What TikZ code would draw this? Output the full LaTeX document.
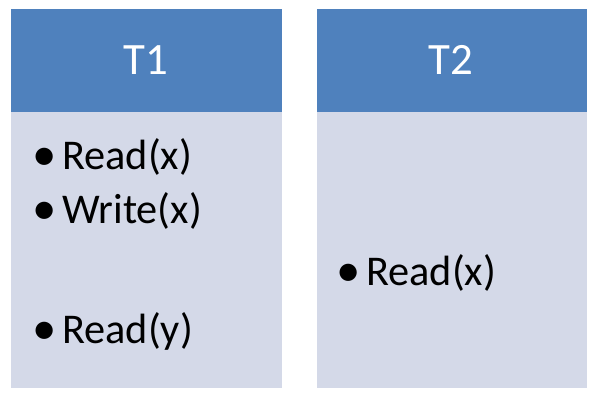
\documentclass[tikz,border=0pt]{standalone}
\usepackage{fontspec}
\setmainfont{Carlito}
\definecolor{headblue}{HTML}{4F81BD}
\definecolor{bodyblue}{HTML}{D4D9E8}
\newcommand{\bul}{\makebox[27bp][l]{\hspace{-2.5bp}\raisebox{-1.5bp}{\scalebox{1.15}{•}}}}
\begin{document}
\begin{tikzpicture}[x=1bp,y=-1bp,
  header/.style={fill=headblue, draw=none},
  panel/.style={fill=bodyblue, draw=none},
  title/.style={text=white, font=\fontsize{45}{50}\selectfont, inner sep=0pt},
  item/.style={anchor=base west, inner sep=0pt, font=\fontsize{42.5}{48}\selectfont}]
  \useasboundingbox (0,0) rectangle (602,405);
  % T1 column
  \path[panel]  (11,112) rectangle (282,388);
  \path[header] (11,9) rectangle (282,112);
  \node[title] (t1) at (145.5,60) {T1};
  \node[item] (r1) at (35,169) {\bul Read(x)};
  \node[item] (w1) at (35,223) {\bul Write(x)};
  \node[item] (y1) at (35,343) {\bul Read(y)};
  % T2 column
  \path[panel]  (317,112) rectangle (587,388);
  \path[header] (317,9) rectangle (587,112);
  \node[title] (t2) at (451,60) {T2};
  \node[item] (r2) at (339,285) {\bul Read(x)};
\end{tikzpicture}
\end{document}
